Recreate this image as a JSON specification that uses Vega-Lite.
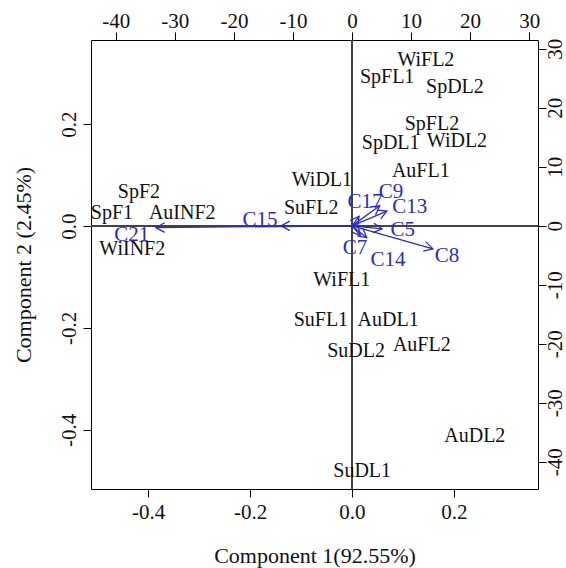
{
  "$schema": "https://vega.github.io/schema/vega-lite/v6.json",
  "autosize": "none",
  "width": 447,
  "height": 449,
  "padding": {"left": 91, "top": 40, "right": 28, "bottom": 79},
  "background": "white",
  "config": {
    "view": {"stroke": "#000", "strokeWidth": 1},
    "axis": {
      "domain": false, "grid": false, "tickColor": "#000", "tickSize": 8, "tickWidth": 1,
      "labelFont": "Liberation Serif", "labelFontSize": 21, "labelColor": "#111",
      "titleFont": "Liberation Serif", "titleFontSize": 22, "titleFontWeight": "normal", "titleColor": "#111"
    },
    "text": {"font": "Liberation Serif"}
  },
  "datasets": {
    "obs": [
      {"name": "WiFL2", "x": 0.145, "y": 0.325},
      {"name": "SpFL1", "x": 0.069, "y": 0.292},
      {"name": "SpDL2", "x": 0.202, "y": 0.273},
      {"name": "SpFL2", "x": 0.157, "y": 0.200},
      {"name": "SpDL1", "x": 0.076, "y": 0.163},
      {"name": "WiDL2", "x": 0.206, "y": 0.167},
      {"name": "AuFL1", "x": 0.135, "y": 0.108},
      {"name": "WiDL1", "x": -0.059, "y": 0.090},
      {"name": "SuFL2", "x": -0.080, "y": 0.035},
      {"name": "SpF2", "x": -0.418, "y": 0.067},
      {"name": "SpF1", "x": -0.471, "y": 0.025},
      {"name": "AuINF2", "x": -0.333, "y": 0.025},
      {"name": "WiINF2", "x": -0.431, "y": -0.045},
      {"name": "WiFL1", "x": -0.020, "y": -0.106},
      {"name": "SuFL1", "x": -0.061, "y": -0.184},
      {"name": "AuDL1", "x": 0.071, "y": -0.184},
      {"name": "SuDL2", "x": 0.008, "y": -0.245},
      {"name": "AuFL2", "x": 0.137, "y": -0.233},
      {"name": "AuDL2", "x": 0.241, "y": -0.412},
      {"name": "SuDL1", "x": 0.020, "y": -0.480}
    ],
    "vars": [
      {"name": "C21", "lx": -37.3, "ly": -1.6, "tx": -33.2, "ty": -0.3},
      {"name": "C15", "lx": -15.6, "ly": 1.0, "tx": -12.0, "ty": 0.0},
      {"name": "C17", "lx": 2.2, "ly": 4.1, "tx": 1.2, "ty": 1.6},
      {"name": "C9", "lx": 6.6, "ly": 5.8, "tx": 4.7, "ty": 3.4},
      {"name": "C13", "lx": 9.8, "ly": 3.2, "tx": 5.9, "ty": 2.5},
      {"name": "C5", "lx": 8.6, "ly": -0.7, "tx": 5.1, "ty": -0.5},
      {"name": "C8", "lx": 16.1, "ly": -5.1, "tx": 13.7, "ty": -3.9},
      {"name": "C7", "lx": 0.5, "ly": -3.7, "tx": 1.4, "ty": -1.6},
      {"name": "C14", "lx": 6.1, "ly": -5.8, "tx": 2.5, "ty": -2.0}
    ]
  },
  "layer": [
    {
      "data": {"name": "obs"},
      "encoding": {
        "x": {"field": "x", "type": "quantitative",
          "scale": {"domain": [-0.512, 0.365], "nice": false, "zero": false},
          "axis": {"orient": "bottom", "values": [-0.4, -0.2, 0, 0.2], "labelPadding": 4, "titlePadding": 23,
            "labelExpr": "replace(format(datum.value, '.1f'), '\u2212', '-')", "title": "Component 1(92.55%)"}},
        "y": {"field": "y", "type": "quantitative",
          "scale": {"domain": [-0.516, 0.365], "nice": false, "zero": false},
          "axis": {"orient": "left", "values": [-0.4, -0.2, 0, 0.2], "labelAngle": -90, "labelPadding": 4, "titlePadding": 23,
            "labelExpr": "replace(format(datum.value, '.1f'), '\u2212', '-')", "title": "Component 2 (2.45%)"}}
      },
      "layer": [
        {"mark": {"type": "rule", "color": "#444", "strokeWidth": 1}, "encoding": {"x": {"datum": 0}, "y": null}},
        {"mark": {"type": "rule", "color": "#444", "strokeWidth": 1}, "encoding": {"y": {"datum": 0}, "x": null}},
        {"mark": {"type": "text", "fontSize": 20, "color": "#111", "align": "center", "baseline": "middle"},
         "encoding": {"text": {"field": "name"}}}
      ]
    },
    {
      "data": {"name": "vars"},
      "transform": [{"calculate": "atan2(datum.tx, datum.ty) * 180 / PI", "as": "ang"}],
      "layer": [
        {"mark": {"type": "rule", "color": "#2b2bc4", "strokeWidth": 1.3},
         "encoding": {
           "x": {"field": "tx", "type": "quantitative",
             "scale": {"domain": [-44.2, 31.5], "nice": false, "zero": false},
             "axis": {"orient": "top", "values": [-40, -30, -20, -10, 0, 10, 20, 30], "labelPadding": 1, "title": null,
               "labelExpr": "replace(format(datum.value, 'd'), '\u2212', '-')"}},
           "y": {"field": "ty", "type": "quantitative",
             "scale": {"domain": [-44.6, 31.5], "nice": false, "zero": false},
             "axis": {"orient": "right", "values": [-40, -30, -20, -10, 0, 10, 20, 30], "labelAngle": -90, "labelPadding": -2, "title": null,
               "labelExpr": "replace(format(datum.value, 'd'), '\u2212', '-')"}},
           "x2": {"datum": 0},
           "y2": {"datum": 0}
         }},
        {"mark": {"type": "point", "shape": "M-0.55,1L0,0L0.55,1", "filled": false, "size": 300, "color": "#2b2bc4", "strokeWidth": 1.3, "opacity": 1},
         "encoding": {
           "x": {"field": "tx", "type": "quantitative"},
           "y": {"field": "ty", "type": "quantitative"},
           "angle": {"field": "ang", "type": "quantitative", "scale": null}
         }},
        {"mark": {"type": "text", "fontSize": 21, "color": "#2b2bc4", "align": "center", "baseline": "middle"},
         "encoding": {
           "x": {"field": "lx", "type": "quantitative"},
           "y": {"field": "ly", "type": "quantitative"},
           "text": {"field": "name"}
         }}
      ]
    }
  ],
  "resolve": {"scale": {"x": "independent", "y": "independent"}, "axis": {"x": "independent", "y": "independent"}}
}
